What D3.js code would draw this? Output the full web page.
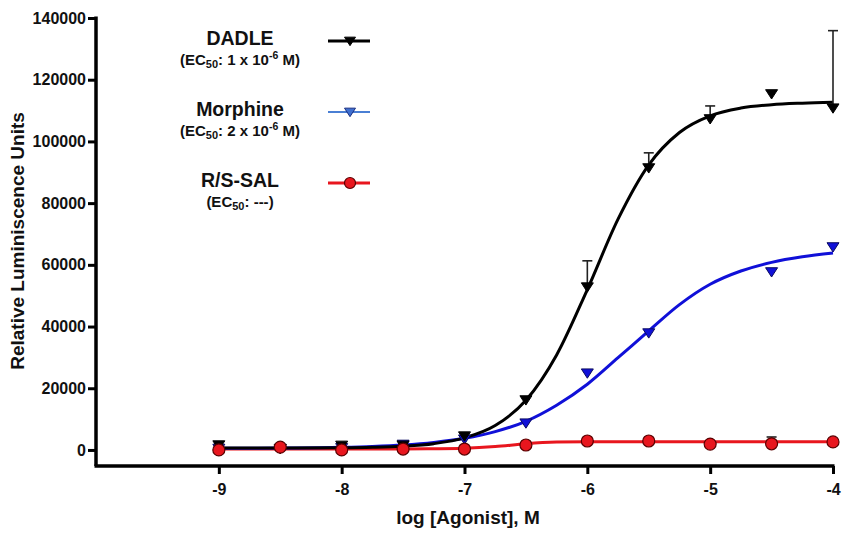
<!DOCTYPE html>
<html><head><meta charset="utf-8">
<script src="https://cdn.jsdelivr.net/npm/d3@7"></script>
<style>
body{margin:0;background:#fff;}
svg{display:block;font-family:"Liberation Sans",Arial,sans-serif;}
</style></head>
<body><svg id="c" width="850" height="537"></svg>
<script>
// ---- data ----
const logDose = [-9, -8.5, -8, -7.5, -7, -6.5, -6, -5.5, -5, -4.5, -4];
const dadle = [1600, 400, 1500, 1500, 4500, 16200, 52800, 91400, 107300, 115400, 110800];
const dadleErr = [0, 0, 0, 0, 0, 0, 61300, 96300, 111500, 0, 135900];
const morphine = [500, 500, 700, 1800, 3500, 8700, 24900, 37900, null, 57700, 65800];
const rsSal = [0, 900, 0, 300, 300, 1600, 2900, 2900, 1900, 2000, 2600];
const rsSalErr = [0, 0, 0, 0, 0, 0, 0, 0, 0, 4200, 0];

const fitX = [-9, -8.5, -8, -7.75, -7.5, -7.25, -7, -6.75, -6.5, -6.25, -6, -5.75, -5.5, -5.25, -5, -4.75, -4.5, -4.25, -4];
const dadleFit = [600, 620, 720, 880, 1230, 2040, 3900, 7900, 16100, 30800, 52000, 74800, 92400, 102900, 108300, 110800, 111900, 112400, 112700];
const morphineFit = [540, 630, 880, 1160, 1630, 2440, 3770, 5950, 9300, 14500, 21300, 29900, 38600, 47100, 53700, 58000, 60800, 62600, 63800];
const rsSalFit = [300, 300, 300, 300, 320, 380, 550, 1100, 2000, 2550, 2700, 2700, 2700, 2700, 2700, 2700, 2700, 2700, 2700];

const xTicks = [-9, -8, -7, -6, -5, -4];
const yTicks = [0, 20000, 40000, 60000, 80000, 100000, 120000, 140000];

const legendNames = ["DADLE", "Morphine", "R/S-SAL"];
const legendEC = ["1 x 10", "2 x 10", "---"];
const legendExp = ["-6", "-6", ""];

// ---- chart ----
const svg = d3.select("#c");
const x = d3.scaleLinear().domain([-10, -4]).range([96, 833]);
const y = d3.scaleLinear().domain([-5200, 140000]).range([466, 18]);

const BLUE = "#1010d8", RED = "#e8161e";
const FONT = "'Liberation Sans',Arial,sans-serif";

// axes
const xAxis = svg.append("g").attr("transform", "translate(0,466)")
  .call(d3.axisBottom(x).tickValues(xTicks).tickSize(8).tickSizeOuter(0).tickPadding(10).tickFormat(d => String(d)));
const yAxis = svg.append("g").attr("transform", "translate(96,0)")
  .call(d3.axisLeft(y).tickValues(yTicks).tickSize(8).tickSizeOuter(0).tickPadding(2).tickFormat(d => String(d)));
[xAxis, yAxis].forEach(g => {
  g.select(".domain").attr("stroke", "#000").attr("stroke-width", 3.5);
  g.selectAll(".tick line").attr("stroke", "#000").attr("stroke-width", 3);
  g.selectAll(".tick text").attr("fill", "#111").attr("font-size", 16).attr("font-weight", "bold")
   .attr("font-family", FONT);
});
yAxis.select(".domain").attr("d", "M0,466V16.5");
xAxis.select(".domain").attr("d", "M" + (96 - 1.5) + ",0H834.5");

svg.append("text").attr("x", 468).attr("y", 524).attr("text-anchor", "middle")
  .attr("font-size", 19).attr("font-weight", "bold").attr("fill", "#111").text("log [Agonist], M");
svg.append("text").attr("transform", "translate(24,241) rotate(-90)").attr("text-anchor", "middle")
  .attr("font-size", 19).attr("font-weight", "bold").attr("fill", "#111").text("Relative Luminiscence Units");

// fitted lines
const fitLine = vals => d3.line().x((d, i) => x(fitX[i])).y(d => y(d)).curve(d3.curveMonotoneX)(vals);
svg.append("path").attr("d", fitLine(rsSalFit)).attr("fill", "none").attr("stroke", RED).attr("stroke-width", 3);
svg.append("path").attr("d", fitLine(morphineFit)).attr("fill", "none").attr("stroke", BLUE).attr("stroke-width", 3);
svg.append("path").attr("d", fitLine(dadleFit)).attr("fill", "none").attr("stroke", "#000").attr("stroke-width", 3);

// error bars
function errBars(vals, errs) {
  vals.forEach((v, i) => {
    if (!errs[i] || v == null) return;
    const cx = x(logDose[i]);
    svg.append("line").attr("x1", cx).attr("x2", cx).attr("y1", y(v)).attr("y2", y(errs[i]))
      .attr("stroke", "#222").attr("stroke-width", 1.6);
    svg.append("line").attr("x1", cx - 5).attr("x2", cx + 5).attr("y1", y(errs[i])).attr("y2", y(errs[i]))
      .attr("stroke", "#222").attr("stroke-width", 1.6);
  });
}
errBars(dadle, dadleErr);
errBars(rsSal, rsSalErr);

// markers
const tri = (cx, cy, s) => `M${cx - s},${cy - s * 0.7}L${cx + s},${cy - s * 0.7}L${cx},${cy + s * 0.85}Z`;
morphine.forEach((v, i) => {
  if (v == null) return;
  svg.append("path").attr("d", tri(x(logDose[i]), y(v), 6)).attr("fill", BLUE).attr("stroke", "#0a0a60").attr("stroke-width", 1);
});
dadle.forEach((v, i) => {
  svg.append("path").attr("d", tri(x(logDose[i]), y(v), 6)).attr("fill", "#000").attr("stroke", "#000").attr("stroke-width", 1);
});
rsSal.forEach((v, i) => {
  svg.append("circle").attr("cx", x(logDose[i])).attr("cy", y(v)).attr("r", 6)
    .attr("fill", RED).attr("stroke", "#5a0000").attr("stroke-width", 1.2);
});

// legend
const legY = [45, 116, 187];
const legColors = ["#000", "#4a7fd4", RED];
legendNames.forEach((n, i) => {
  svg.append("text").attr("x", 240).attr("y", legY[i]).attr("text-anchor", "middle")
    .attr("font-size", 19.5).attr("font-weight", "bold").attr("fill", "#111").text(n);
  const t = svg.append("text").attr("x", 240).attr("y", legY[i] + 20).attr("text-anchor", "middle")
    .attr("font-size", 15).attr("font-weight", "bold").attr("fill", "#111");
  t.append("tspan").text("(EC");
  t.append("tspan").attr("font-size", 11).attr("dy", 3).text("50");
  t.append("tspan").attr("dy", -3).text(":  " + legendEC[i]);
  if (legendExp[i]) {
    t.append("tspan").attr("font-size", 10.5).attr("dy", -6).text(legendExp[i]);
    t.append("tspan").attr("dy", 6).text(" M)");
  } else {
    t.append("tspan").text(")");
  }
  const ly = legY[i] - 4;
  svg.append("line").attr("x1", 328).attr("x2", 370).attr("y1", ly).attr("y2", ly)
    .attr("stroke", legColors[i]).attr("stroke-width", i === 1 ? 2 : 3);
  if (i === 2) {
    svg.append("circle").attr("cx", 350).attr("cy", ly).attr("r", 5.5).attr("fill", RED).attr("stroke", "#5a0000").attr("stroke-width", 1.2);
  } else {
    svg.append("path").attr("d", tri(350, ly, 5.5)).attr("fill", i === 0 ? "#000" : "#3f6fd0")
      .attr("stroke", i === 0 ? "#000" : "#1a2f80").attr("stroke-width", 1);
  }
});
</script></body></html>
